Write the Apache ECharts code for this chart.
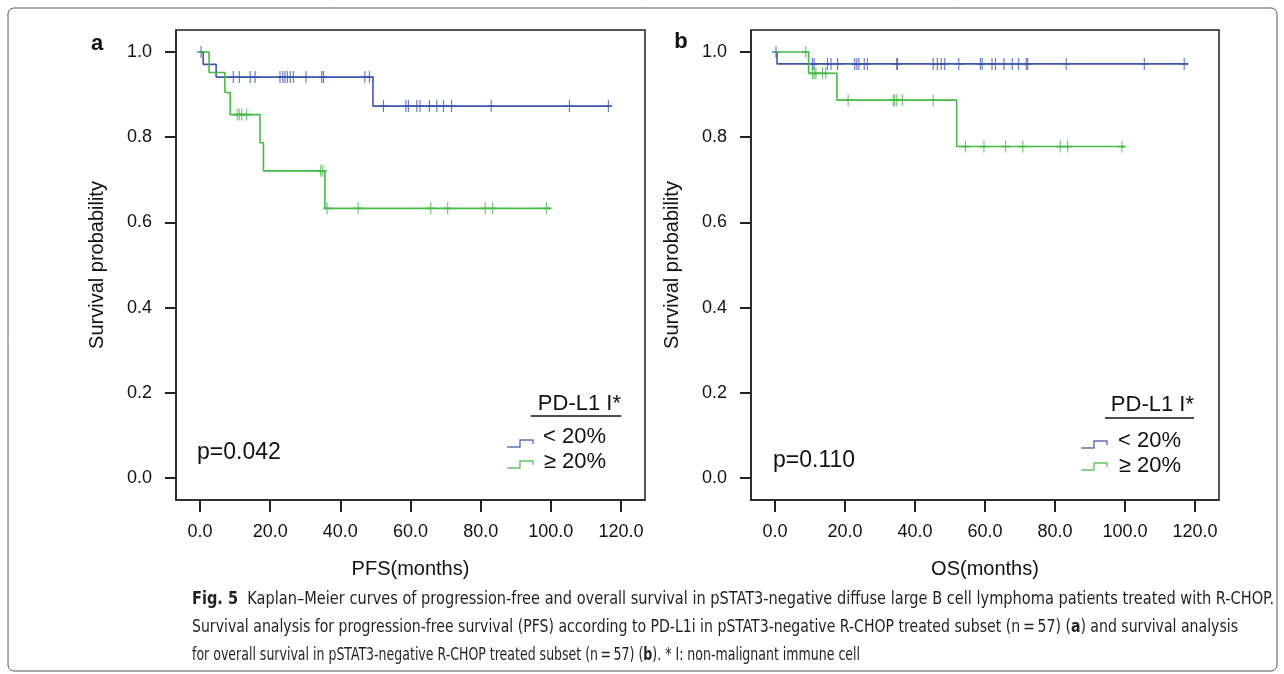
<!DOCTYPE html>
<html>
<head>
<meta charset="utf-8">
<script src="https://cdn.jsdelivr.net/npm/echarts@6/dist/echarts.min.js"></script>
<style>
html,body{margin:0;padding:0;background:#fff;}
#main{width:1284px;height:674px;}
</style>
</head>
<body>
<div id="main"></div>
<script>
// ---- data (months / survival probability) ----
// a: PFS, PD-L1 I* < 20%
var pfsLowT = [0, 0.9, 4.6, 49.3, 117];
var pfsLowS = [1, 0.971, 0.941, 0.873, 0.873];
var pfsLowCens = [0.3, 9.5, 11.2, 14.3, 15.7, 22.8, 23.6, 24.2, 24.9, 25.7, 26.6, 30.2, 34.7, 35.2, 47.0, 48.3,
	52.3, 58.7, 59.4, 61.8, 62.7, 65.4, 67.5, 69.4, 71.7, 83.0, 105.3, 116.4];
// a: PFS, PD-L1 I* >= 20%
var pfsHighT = [0, 2.6, 7.1, 8.6, 17.1, 18.1, 35.6, 100.2];
var pfsHighS = [1, 0.952, 0.905, 0.853, 0.787, 0.721, 0.633, 0.633];
var pfsHighCens = [10.6, 11.2, 11.9, 13.3, 34.4, 35.0, 36.2, 45.1, 65.8, 70.6, 81.3, 83.4, 98.8];
// b: OS, PD-L1 I* < 20%
var osLowT = [0, 0.6, 118];
var osLowS = [1, 0.972, 0.972];
var osLowCens = [0.3, 10.7, 11.2, 15.0, 16.0, 17.9, 22.8, 23.4, 24.0, 25.5, 26.4, 34.8, 35.0, 45.2, 46.4, 47.5, 48.5,
	52.5, 58.7, 59.2, 62.0, 63.0, 65.4, 67.8, 69.6, 71.8, 72.2, 83.2, 105.5, 116.9];
// b: OS, PD-L1 I* >= 20%
var osHighT = [0, 9.6, 17.7, 51.9, 100];
var osHighS = [1, 0.95, 0.887, 0.778, 0.778];
var osHighCens = [8.8, 10.7, 11.2, 11.7, 13.6, 14.5, 20.9, 33.8, 34.2, 34.8, 36.4, 45.2,
	54.4, 59.7, 65.9, 70.8, 81.5, 83.6, 99.1];

var xTicks = [0, 20, 40, 60, 80, 100, 120];
var yTicks = [0, 0.2, 0.4, 0.6, 0.8, 1.0];
var groupNames = ['< 20%', '\u2265 20%'];
var pValues = ['p=0.042', 'p=0.110'];
var xNames = ['PFS(months)', 'OS(months)'];

var BLUE = '#3d57b0', GREEN = '#45ba45';
var FONT = "'Liberation Sans', Arial, sans-serif";
var CAPFONT = "'Liberation Sans Narrow', 'DejaVu Sans Condensed', 'Liberation Sans', sans-serif";

// KM pairs for a step line
function stepData(T, S){
	var d = [];
	for(var i=0;i<T.length;i++){ d.push([T[i], S[i]]); }
	return d;
}
// curve level at a censoring time
function censData(T, S, C){
	var d = [];
	for(var j=0;j<C.length;j++){
		var s = S[0];
		for(var i=0;i<T.length;i++){ if(T[i] <= C[j]) s = S[i]; }
		d.push([C[j], s]);
	}
	return d;
}

function makeX(idx){
	return {
		type:'value', gridIndex:idx, min:-6.84, max:126.84,
		name:xNames[idx], nameLocation:'middle', nameGap:59,
		nameTextStyle:{fontSize:20, color:'#111', fontFamily:FONT},
		axisLine:{show:true, onZero:false, lineStyle:{color:'#222', width:1.5}},
		axisTick:{show:true, customValues:xTicks, length:12, lineStyle:{color:'#222', width:2}},
		axisLabel:{customValues:xTicks, margin:23, fontSize:18, color:'#111', fontFamily:FONT,
			formatter:function(v){ return v.toFixed(1); }},
		splitLine:{show:false}
	};
}
function makeY(idx){
	return {
		type:'value', gridIndex:idx, min:-0.0516, max:1.0516,
		name:'Survival probability', nameLocation:'middle', nameGap:69,
		nameTextStyle:{fontSize:20, color:'#111', fontFamily:FONT},
		axisLine:{show:true, onZero:false, lineStyle:{color:'#222', width:1.5}},
		axisTick:{show:true, customValues:yTicks, length:11, lineStyle:{color:'#222', width:2}},
		axisLabel:{customValues:yTicks, margin:24, fontSize:18, color:'#111', fontFamily:FONT,
			formatter:function(v){ return v.toFixed(1); }},
		splitLine:{show:false}
	};
}
function kmLine(idx, T, S, color){
	return {type:'line', xAxisIndex:idx, yAxisIndex:idx, step:'end', data:stepData(T, S),
		showSymbol:false, symbol:'none', lineStyle:{color:color, width:1.6}, silent:true, animation:false};
}
function cens(idx, T, S, C, color){
	return {type:'scatter', xAxisIndex:idx, yAxisIndex:idx, data:censData(T, S, C),
		symbol:'path://M4,0V12M0,6H8', symbolSize:[8,12],
		itemStyle:{color:'none', borderColor:color, borderWidth:1.4}, silent:true, animation:false};
}

// legend block (header, underline, step icons, labels) for one panel
function legendBlock(hx, hy, ux0, ux1, uy, ix, iy1, iy2, ty1, ty2, tx){
	var g = [];
	g.push({type:'text', x:hx, y:hy, style:{text:'PD-L1 I*', font:'22px '+FONT, fill:'#111', align:'right', verticalAlign:'middle'}});
	g.push({type:'line', shape:{x1:ux0, y1:uy, x2:ux1, y2:uy}, style:{stroke:'#111', lineWidth:1.3}});
	var cols = [BLUE, GREEN], iys = [iy1, iy2], tys = [ty1, ty2];
	for(var k=0;k<2;k++){
		var y = iys[k];
		g.push({type:'polyline', shape:{points:[[ix,y],[ix+13,y],[ix+13,y-7],[ix+26,y-7],[ix+26,y-3]]},
			style:{stroke:cols[k], lineWidth:1.4, fill:null, opacity:0.85}});
		g.push({type:'text', x:tx, y:tys[k], style:{text:groupNames[k], font:'22px '+FONT, fill:'#111', align:'right', verticalAlign:'middle'}});
	}
	return g;
}

// caption, each line squeezed to the width of the printed line
var capParts = [
	[['b', 'Fig. 5'], ['r', '  Kaplan\u2013Meier curves of progression-free and overall survival in pSTAT3-negative diffuse large B cell lymphoma patients treated with R-CHOP.']],
	[['r', 'Survival analysis for progression-free survival (PFS) according to PD-L1i in pSTAT3-negative R-CHOP treated subset (n\u2009=\u200957) ('], ['b', 'a'], ['r', ') and survival analysis']],
	[['r', 'for overall survival in pSTAT3-negative R-CHOP treated subset (n\u2009=\u200957) ('], ['b', 'b'], ['r', '). * I: non-malignant immune cell']]
];
var capWidths = [1082, 1046, 668];
var capY = [600, 628, 656];
function textW(t, bold){
	var c = document.createElement('canvas').getContext('2d');
	c.font = (bold?'bold ':'') + '17px ' + CAPFONT;
	return c.measureText(t).width;
}
var capRich = {
	r:{fontSize:17, fontFamily:CAPFONT, fill:'#231f20'},
	b:{fontSize:17, fontFamily:CAPFONT, fontWeight:'bold', fill:'#231f20'}
};
function capLine(k){
	var txt = '', w = 0;
	for(var i=0;i<capParts[k].length;i++){
		var p = capParts[k][i];
		txt += '{' + p[0] + '|' + p[1] + '}';
		w += textW(p[1], p[0]=='b');
	}
	return {type:'text', x:192, y:capY[k], scaleX:capWidths[k]/w, originX:0,
		style:{text:txt, rich:capRich, verticalAlign:'middle', fill:'#231f20', font:'17px '+CAPFONT}};
}

var graphics = [
	{type:'rect', shape:{x:8, y:8, width:1269, height:663, r:6}, style:{fill:null, stroke:'#555', lineWidth:1}},
	{type:'text', x:97, y:44, style:{text:'a', font:'bold 22px '+FONT, fill:'#111', align:'center', verticalAlign:'middle'}},
	{type:'text', x:681, y:42, style:{text:'b', font:'bold 22px '+FONT, fill:'#111', align:'center', verticalAlign:'middle'}},
	{type:'text', x:197, y:453, style:{text:pValues[0], font:'23px '+FONT, fill:'#111', verticalAlign:'middle'}},
	{type:'text', x:773, y:461, style:{text:pValues[1], font:'23px '+FONT, fill:'#111', verticalAlign:'middle'}},
	capLine(0), capLine(1), capLine(2)
];
graphics = graphics.concat(legendBlock(621, 404, 531, 621, 416, 507, 447, 468, 437, 462, 606));
graphics = graphics.concat(legendBlock(1194, 405, 1105, 1194, 418, 1081, 448, 470, 441, 466, 1181));

var chart = echarts.init(document.getElementById('main'), null, {renderer:'canvas'});
var option = {
	backgroundColor:'#fff',
	animation:false,
	grid:[
		{left:176, top:30, width:469, height:470, show:true, borderColor:'#222', borderWidth:1.5, backgroundColor:'transparent'},
		{left:751, top:30, width:468, height:470, show:true, borderColor:'#222', borderWidth:1.5, backgroundColor:'transparent'}
	],
	xAxis:[makeX(0), makeX(1)],
	yAxis:[makeY(0), makeY(1)],
	series:[
		kmLine(0, pfsLowT, pfsLowS, BLUE),
		kmLine(0, pfsHighT, pfsHighS, GREEN),
		cens(0, pfsLowT, pfsLowS, pfsLowCens, BLUE),
		cens(0, pfsHighT, pfsHighS, pfsHighCens, GREEN),
		kmLine(1, osLowT, osLowS, BLUE),
		kmLine(1, osHighT, osHighS, GREEN),
		cens(1, osLowT, osLowS, osLowCens, BLUE),
		cens(1, osHighT, osHighS, osHighCens, GREEN)
	],
	graphic:graphics
};
chart.setOption(option);
</script>
</body>
</html>
